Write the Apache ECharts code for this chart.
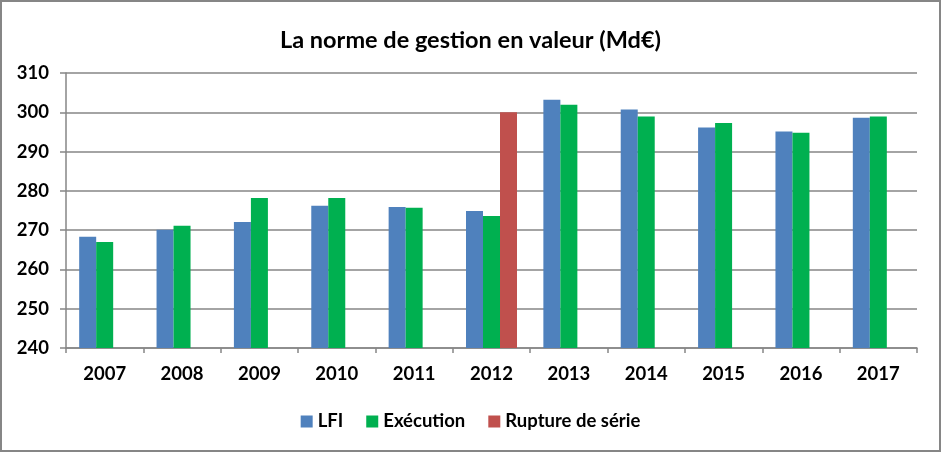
<!DOCTYPE html>
<html><head><meta charset="utf-8">
<script src="https://cdn.jsdelivr.net/npm/echarts@6/dist/echarts.min.js"></script>
<style>
html,body{margin:0;padding:0;background:#fff;}
#c{width:941px;height:452px;box-sizing:border-box;border:2px solid #868686;}
</style></head><body>
<div id="c"></div>
<script>
const categories = ['2007','2008','2009','2010','2011','2012','2013','2014','2015','2016','2017'];
const lfi = [268.3, 270.1, 272.1, 276.2, 275.9, 274.9, 303.2, 300.7, 296.1, 295.1, 298.6];
const execution = [267.0, 271.1, 278.2, 278.2, 275.7, 273.6, 301.9, 298.9, 297.3, 294.8, 298.9];
const rupture = [null, null, null, null, null, 300.0, null, null, null, null, null];
const yTicks = [240, 250, 260, 270, 280, 290, 300, 310];

const font = 'Lato, "Open Sans", sans-serif';
const chart = echarts.init(document.getElementById('c'), null, {renderer:'canvas'});
chart.setOption({
  animation:false,
  title:{text:'La norme de gestion en valeur (Md€)', left:'center', top:21,
    textStyle:{fontFamily:font, fontWeight:'bold', fontSize:23.5, color:'#000'}},
  legend:{top:405, left:'center', itemWidth:12, itemHeight:12, itemGap:23,
    icon:'rect',
    textStyle:{fontFamily:font, fontWeight:'bold', fontSize:18.5, color:'#000'},
    data:['LFI','Exécution','Rupture de série']},
  grid:{left:64, right:22, top:71, bottom:102},
  xAxis:{type:'category', data:categories,
    axisLine:{lineStyle:{color:'#868686', width:1.5}},
    axisTick:{show:true, length:5, lineStyle:{color:'#868686', width:1.5}},
    axisLabel:{fontFamily:font, fontWeight:'bold', fontSize:18.5, color:'#000', margin:17}},
  yAxis:{type:'value', min:yTicks[0], max:yTicks[yTicks.length-1], interval:10,
    axisLine:{show:true, lineStyle:{color:'#868686', width:1.5}},
    axisTick:{show:true, length:6, lineStyle:{color:'#868686', width:1.5}},
    splitLine:{lineStyle:{color:'#868686', width:1.5}},
    axisLabel:{fontFamily:font, fontWeight:'bold', fontSize:18.5, color:'#000', margin:17}},
  series:[
    {name:'LFI', type:'bar', data:lfi, itemStyle:{color:'#4F81BD'}, barWidth:17, barGap:'0%', barCategoryGap:'34%'},
    {name:'Exécution', type:'bar', data:execution, itemStyle:{color:'#00B050'}, barWidth:17, barGap:'0%'},
    {name:'Rupture de série', type:'bar', data:rupture, itemStyle:{color:'#C0504D'}, barWidth:17, barGap:'0%'}
  ]
});
</script>
</body></html>
